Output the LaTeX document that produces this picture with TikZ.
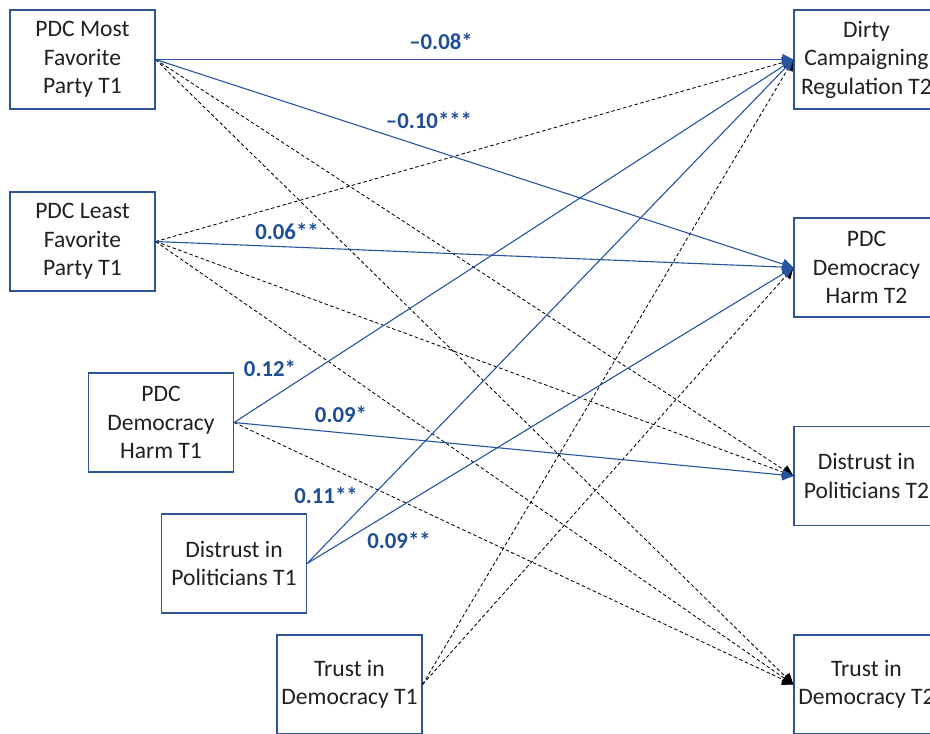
\documentclass[tikz,border=0pt]{standalone}
\usepackage{fontspec}
\setmainfont{Carlito}
\usetikzlibrary{arrows.meta}
\definecolor{boxblue}{RGB}{47,85,151}
\definecolor{lineblue}{RGB}{38,84,158}
\definecolor{labblue}{RGB}{31,78,150}
\definecolor{txt}{RGB}{35,31,32}
\tikzset{
  varbox/.style={draw=boxblue, line width=1.2pt, rectangle, minimum width=145pt, minimum height=99pt, inner sep=0pt, align=center, text=txt, font=\fontsize{23.6}{28.5}\selectfont},
  sig/.style={draw=lineblue, line width=1.1pt, -{Triangle[length=11pt,width=11pt]}},
  nonsig/.style={draw=black, line width=0.85pt, dash pattern=on 3.5pt off 2.5pt, -{Triangle[length=11pt,width=11pt,fill=black]}},
  coef/.style={text=labblue, font=\fontsize{22.8}{26}\selectfont\bfseries, inner sep=1pt}
}
\begin{document}
\begin{tikzpicture}[x=1pt,y=-1pt]
\useasboundingbox (0,0) rectangle (930,734);
\clip (0,0) rectangle (930,734);
% left boxes
\node[varbox] (mf)  at (82.5,59.5)  {PDC Most\\Favorite\\Party T1};
\node[varbox] (lf)  at (82.5,241.5) {PDC Least\\Favorite\\Party T1};
\node[varbox] (dh1) at (161,422.5)  {PDC\\Democracy\\Harm T1};
\node[varbox] (dp1) at (234,563.5)  {Distrust in\\Politicians T1};
\node[varbox] (td1) at (349.5,684.5) {Trust in\\Democracy T1};
% right boxes
\node[varbox] (dc2) at (866.5,59.5)  {Dirty\\Campaigning\\Regulation T2};
\node[varbox] (dh2) at (866.5,267.5) {PDC\\Democracy\\Harm T2};
\node[varbox] (dp2) at (866.5,476)   {Distrust in\\Politicians T2};
\node[varbox] (td2) at (866.5,684.5) {Trust in\\Democracy T2};
% non-significant paths
\draw[nonsig] (mf.east) -- (dp2.west);
\draw[nonsig] (mf.east) -- (td2.west);
\draw[nonsig] (lf.east) -- (dc2.west);
\draw[nonsig] (lf.east) -- (dp2.west);
\draw[nonsig] (lf.east) -- (td2.west);
\draw[nonsig] (dh1.east) -- (td2.west);
\draw[nonsig] (td1.east) -- (dc2.west);
\draw[nonsig] (td1.east) -- (dh2.west);
% significant paths
\draw[sig] (mf.east) -- (dc2.west);
\draw[sig] (mf.east) -- (dh2.west);
\draw[sig] (lf.east) -- (dh2.west);
\draw[sig] (dh1.east) -- (dc2.west);
\draw[sig] (dh1.east) -- (dp2.west);
\draw[sig] (dp1.east) -- (dc2.west);
\draw[sig] (dp1.east) -- (dh2.west);
% coefficients
\node[coef] (c1) at (441,41)  {\textendash0.08*};
\node[coef] (c2) at (429,120) {\textendash0.10***};
\node[coef] (c3) at (287,231) {0.06**};
\node[coef] (c4) at (270,368) {0.12*};
\node[coef] (c5) at (341,414) {0.09*};
\node[coef] (c6) at (326,495) {0.11**};
\node[coef] (c7) at (399,540) {0.09**};
\end{tikzpicture}
\end{document}
